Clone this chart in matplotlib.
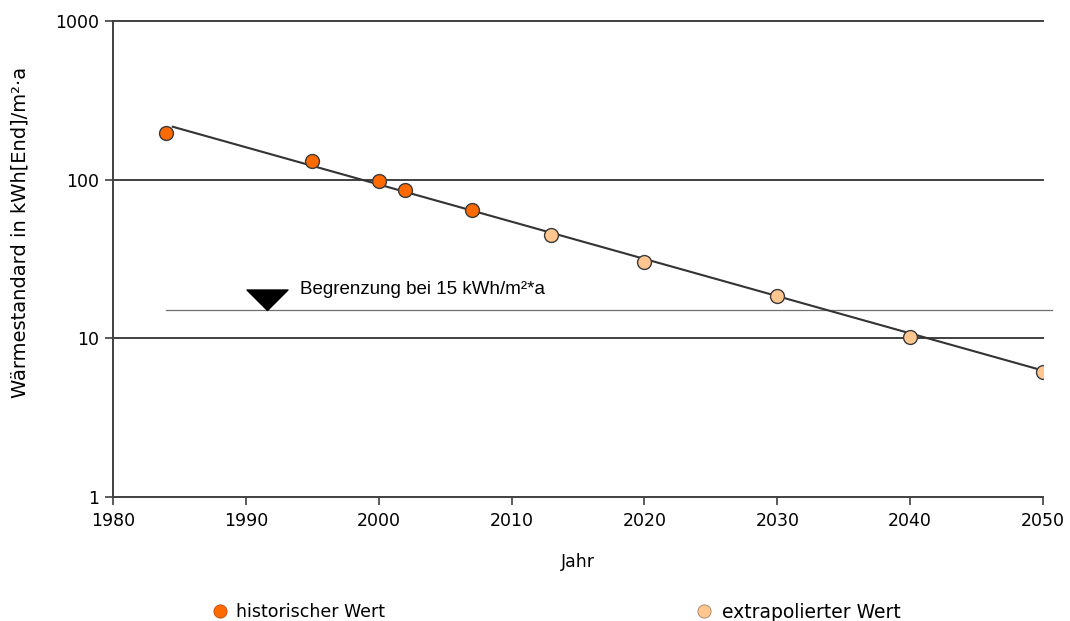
import numpy as np
import matplotlib.pyplot as plt
from matplotlib.lines import Line2D
from matplotlib.path import Path

# Heizwärme-Standard (Endenergie) je Baujahr
hist_years = [1984, 1995, 2000, 2002, 2007]
hist_values = [196, 132, 98.7, 86.2, 64.5]

extra_years = [2013, 2020, 2030, 2040, 2050]
extra_values = [44.9, 30.3, 18.6, 10.2, 6.1]

trend_years = [1984.5, 2050]
trend_values = [216, 6.25]

limit_value = 15
limit_years = [1984, 2050.7]
limit_marker_year = 1991.6

x_ticks = [1980, 1990, 2000, 2010, 2020, 2030, 2040, 2050]
y_ticks = [1, 10, 100, 1000]

hist_color = '#ff6a00'
extra_color = '#ffc690'
edge_color = '#3a3a3a'
axis_color = '#404040'

plt.rcParams['font.family'] = ['DejaVu Sans']

fig = plt.figure(figsize=(10.7, 6.21), dpi=100)
ax = fig.add_axes([0.1056, 0.2002, 0.8692, 0.7655])

ax.set_yscale('log')
ax.set_xlim(1980, 2050)
ax.set_ylim(1, 1000)

# horizontal grid on the decades
for v in y_ticks[1:]:
    ax.axhline(v, color=axis_color, lw=1.4, zorder=1, clip_on=False)

# 15 kWh limit line with the triangle marker
ax.plot(limit_years, [limit_value] * 2, color='#707070', lw=0.9, zorder=1, clip_on=False)
tri = Path([(-1, 1), (1, 1), (0, 0), (-1, 1)],
           [Path.MOVETO, Path.LINETO, Path.LINETO, Path.CLOSEPOLY])
ax.plot([limit_marker_year], [limit_value], marker=tri, markersize=29.5,
        color='black', ls='none', zorder=3)
ax.annotate('Begrenzung bei 15 kWh/m²*a', xy=(limit_marker_year, limit_value),
            xytext=(24, 9), textcoords='offset points',
            fontsize=13.5, family='Liberation Sans', ha='left', va='bottom')

# trend line
ax.plot(trend_years, trend_values, color='#333333', lw=1.5, zorder=2)

ax.plot(hist_years, hist_values, 'o', ms=10, mfc=hist_color, mec=edge_color,
        mew=1.0, zorder=4)
ax.plot(extra_years, extra_values, 'o', ms=10, mfc=extra_color, mec=edge_color,
        mew=1.0, zorder=4)

ax.set_xticks(x_ticks)
ax.set_yticks(y_ticks)
ax.set_yticklabels([str(v) for v in y_ticks])
ax.yaxis.set_minor_locator(plt.NullLocator())
ax.tick_params(axis='both', labelsize=12.5, color=axis_color, width=1.2,
               length=6, direction='out')
ax.tick_params(axis='x', pad=5)
ax.tick_params(axis='y', pad=4)

for side in ['top', 'right']:
    ax.spines[side].set_visible(False)
for side in ['left', 'bottom']:
    ax.spines[side].set_color(axis_color)
    ax.spines[side].set_linewidth(1.4)

fig.text(0.54, 0.095, 'Jahr', fontsize=12.5, ha='center', va='center')
fig.text(0.019, 0.626, 'Wärmestandard in kWh[End]/m²·a', fontsize=14,
         rotation=90, ha='center', va='center')

# legend entries placed under the chart
h1 = Line2D([], [], ls='none', marker='o', ms=9.5, mfc=hist_color, mec='#c04a10', mew=0.6)
h2 = Line2D([], [], ls='none', marker='o', ms=9.5, mfc=extra_color, mec='#a08060', mew=0.6)
for h, lab, x, fs in [(h1, 'historischer Wert', 212 / 1070, 12.5),
                      (h2, 'extrapolierter Wert', 696 / 1070, 13.5)]:
    fig.legend([h], [lab], loc='center left', bbox_to_anchor=(x, 1 - 612 / 621),
               frameon=False, fontsize=fs, handlelength=0.9, handletextpad=0.5,
               borderpad=0, borderaxespad=0)

fig.savefig('out.png', dpi=100)
